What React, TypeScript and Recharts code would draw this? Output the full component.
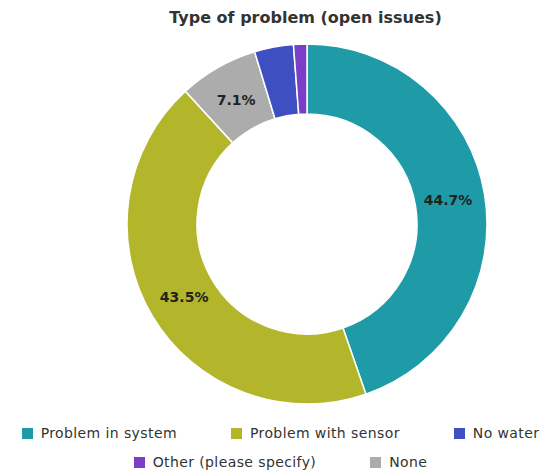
import { PieChart, Pie, Cell, Legend } from "recharts"

// slices, clockwise from 12 o'clock
const categories = ["Problem in system", "Problem with sensor", "None", "No water", "Other (please specify)"]
const shares = [44.7, 43.5, 7.1, 3.5, 1.2]
const colors = ["#1f9ba8", "#b3b62a", "#acacac", "#3d4fc1", "#7a3fc6"]
const legendOrder = ["Problem in system", "Problem with sensor", "No water", "Other (please specify)", "None"]

const chartData = categories.map((name, i) => ({ name, value: shares[i], color: colors[i] }))

const RADIAN = Math.PI / 180
const FONT = "'DejaVu Sans', sans-serif"

function renderLabel({ cx, cy, midAngle, value }: any) {
  if (value < 5) return null
  const r = 143
  const x = cx + r * Math.cos(-midAngle * RADIAN)
  const y = cy + r * Math.sin(-midAngle * RADIAN)
  return (
    <text x={x} y={y} textAnchor="middle" dominantBaseline="central" fill="#222" fontSize={14} fontWeight="bold" fontFamily={FONT}>
      {`${value.toFixed(1)}%`}
    </text>
  )
}

function renderLegend() {
  return (
    <div
      style={{
        display: "flex",
        flexWrap: "wrap",
        justifyContent: "center",
        columnGap: 54,
        rowGap: 11,
        width: 551,
        paddingLeft: 5,
        fontFamily: FONT,
        fontSize: 14,
        letterSpacing: 0.4,
        color: "#333",
      }}
    >
      {legendOrder.map((name) => {
        const c = colors[categories.indexOf(name)]
        return (
          <div key={name} style={{ display: "flex", alignItems: "center", height: 18 }}>
            <span style={{ width: 11, height: 11, background: c, marginRight: 8, display: "inline-block" }} />
            <span>{name}</span>
          </div>
        )
      })}
    </div>
  )
}

export default function App() {
  return (
    <div style={{ position: "absolute", left: 0, top: 0, width: 556, height: 475, background: "#fff" }}>
      <div
        style={{
          position: "absolute",
          left: 0,
          top: 8,
          width: 611,
          textAlign: "center",
          fontFamily: FONT,
          fontWeight: "bold",
          fontSize: 16,
          color: "#333",
        }}
      >
        Type of problem (open issues)
      </div>
      <PieChart
        width={556}
        height={475}
        margin={{ top: 0, right: 0, bottom: 0, left: 0 }}
        style={{ position: "absolute", left: 0, top: 0 }}
      >
        <Pie
          data={chartData}
          dataKey="value"
          nameKey="name"
          cx={307}
          cy={224}
          innerRadius={110}
          outerRadius={180}
          startAngle={90}
          endAngle={-270}
          stroke="#fff"
          strokeWidth={1.5}
          label={renderLabel}
          labelLine={false}
          isAnimationActive={false}
        >
          {chartData.map((entry, index) => (
            <Cell key={`cell-${index}`} fill={entry.color} />
          ))}
        </Pie>
        <Legend content={renderLegend} wrapperStyle={{ left: 0, top: 424, width: 556 }} />
      </PieChart>
    </div>
  )
}
